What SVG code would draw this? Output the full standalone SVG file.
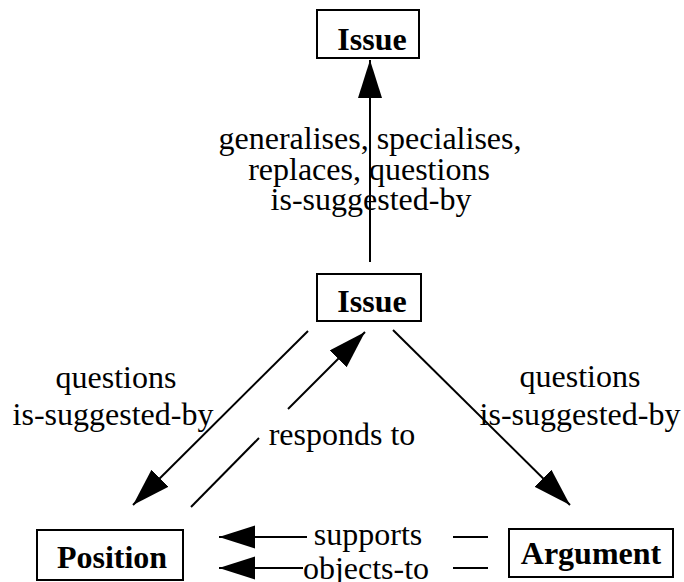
<svg xmlns="http://www.w3.org/2000/svg" width="684" height="582" viewBox="0 0 684 582">
<style>
.box{fill:#fff;stroke:#000;stroke-width:2}
.nt{font-family:"Liberation Serif","Times New Roman",serif;font-weight:bold;font-size:32px;fill:#000;text-anchor:middle}
.lb{font-family:"Liberation Serif","Times New Roman",serif;font-size:32px;fill:#000;text-anchor:middle}
.ln{stroke:#000;stroke-width:2;fill:none}
</style>
<defs>
<marker id="ah" markerUnits="userSpaceOnUse" markerWidth="40" markerHeight="26" refX="38" refY="12" orient="auto">
<path d="M0,0 L38,12 L0,24 Z" fill="#000"/>
</marker>
<marker id="ahs" markerUnits="userSpaceOnUse" markerWidth="38" markerHeight="24" refX="36" refY="11.5" orient="auto">
<path d="M0,0 L36,11.5 L0,23 Z" fill="#000"/>
</marker>
</defs>
<g id="connectors">
<line class="ln" x1="370" y1="262" x2="370" y2="60" marker-end="url(#ah)"/>
<line class="ln" x1="308" y1="331" x2="133" y2="505" marker-end="url(#ah)"/>
<line class="ln" x1="191" y1="507" x2="259" y2="438"/>
<line class="ln" x1="288" y1="409" x2="365" y2="332" marker-end="url(#ah)"/>
<line class="ln" x1="393" y1="330" x2="570" y2="505" marker-end="url(#ah)"/>
<line class="ln" x1="307" y1="537" x2="219" y2="537" marker-end="url(#ahs)"/>
<line class="ln" x1="303" y1="568" x2="219" y2="568" marker-end="url(#ahs)"/>
<line class="ln" x1="453" y1="537" x2="488" y2="537"/>
<line class="ln" x1="453" y1="568" x2="488" y2="568"/>
<text class="lb" x="370" y="149">generalises, specialises,</text>
<text class="lb" x="369" y="180">replaces, questions</text>
<text class="lb" x="371" y="210">is-suggested-by</text>
<text class="lb" x="116" y="388">questions</text>
<text class="lb" x="113" y="425">is-suggested-by</text>
<text class="lb" x="580" y="387">questions</text>
<text class="lb" x="580" y="425">is-suggested-by</text>
<text class="lb" x="342" y="445">responds to</text>
<text class="lb" x="368" y="545">supports</text>
<text class="lb" x="366" y="579">objects-to</text>
</g>
<g id="issue-top">
<rect class="box" x="317" y="10" width="102" height="48"/>
<text class="nt" x="372" y="50">Issue</text>
</g>
<g id="issue-mid">
<rect class="box" x="317" y="274" width="104" height="47"/>
<text class="nt" x="372" y="312">Issue</text>
</g>
<g id="position">
<rect class="box" x="37" y="530" width="146" height="50"/>
<text class="nt" x="112" y="568">Position</text>
</g>
<g id="argument">
<rect class="box" x="509" y="529" width="164" height="48"/>
<text class="nt" x="591" y="564">Argument</text>
</g>
</svg>
